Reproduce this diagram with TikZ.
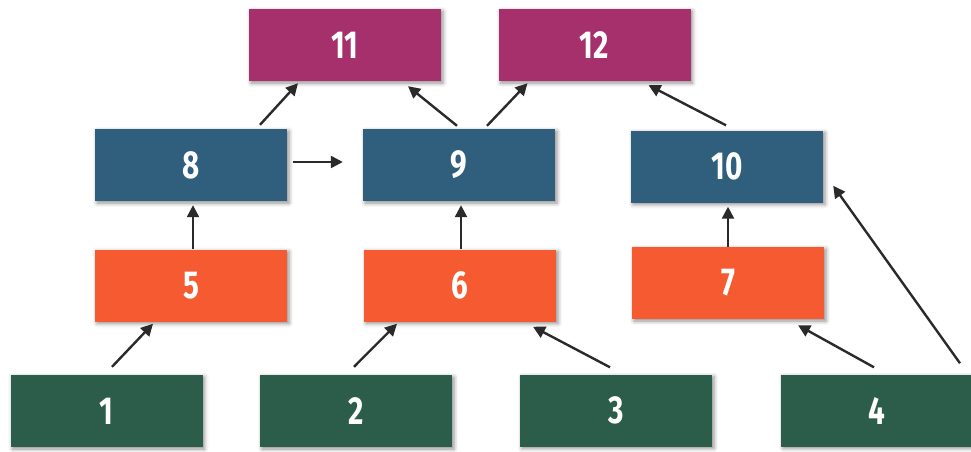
\documentclass[tikz,border=0pt]{standalone}
\usepackage{fontspec}
\setmainfont{Fira Sans}
\newfontfamily\boxfont{Fira Sans}[FakeStretch=0.76]
\usetikzlibrary{arrows.meta,shadows.blur}
\definecolor{toppurple}{HTML}{A5306B}
\definecolor{midblue}{HTML}{2F5F7D}
\definecolor{lowred}{HTML}{F65A30}
\definecolor{basegreen}{HTML}{2C5C4A}
\definecolor{linkgray}{HTML}{2A2A2A}
\tikzset{
  box/.style={minimum width=192pt, minimum height=72pt, inner sep=0pt,
    text=white, font=\boxfont\bfseries\fontsize{39}{40}\selectfont,
    blur shadow={shadow xshift=2pt, shadow yshift=-2pt, shadow blur radius=4pt, shadow opacity=45}},
  lvlfour/.style={box, fill=toppurple},
  lvlthree/.style={box, fill=midblue},
  lvltwo/.style={box, fill=lowred},
  lvlone/.style={box, fill=basegreen},
  link/.style={draw=linkgray, line width=2.4pt,
    -{Triangle[length=12pt,width=12pt]}}
}
\begin{document}
\begin{tikzpicture}[x=1pt,y=-1pt]
\useasboundingbox (0,0) rectangle (971,452);
% top row
\node[lvlfour] (b11) at (345,45) {11};
\node[lvlfour] (b12) at (594.5,45) {12};
% second row
\node[lvlthree] (b8) at (191,165) {8};
\node[lvlthree] (b9) at (459,165) {9};
\node[lvlthree] (b10) at (727,166.5) {10};
% third row
\node[lvltwo] (b5) at (191,285.5) {5};
\node[lvltwo] (b6) at (460,285.5) {6};
\node[lvltwo] (b7) at (728,283) {7};
% bottom row
\node[lvlone] (b1) at (106.5,411) {1};
\node[lvlone] (b2) at (356,411) {2};
\node[lvlone] (b3) at (616,410.5) {3};
\node[lvlone] (b4) at (877,410.5) {4};
% connectors
\draw[link] ([xshift=69pt,yshift=4pt]b8.north) -- ([xshift=-47pt,yshift=-2pt]b11.south);
\draw[link] ([xshift=-2pt,yshift=3pt]b9.north) -- ([xshift=63pt,yshift=-5pt]b11.south);
\draw[link] ([xshift=28pt,yshift=3pt]b9.north) -- ([xshift=-67pt,yshift=-2pt]b12.south);
\draw[link] ([xshift=-1pt,yshift=5pt]b10.north) -- ([xshift=54pt,yshift=-4pt]b12.south);
\draw[link] ([xshift=6pt,yshift=3pt]b8.east) -- ([xshift=-20pt,yshift=3pt]b9.west);
\draw[link] ([xshift=2pt]b5.north) -- ([xshift=2pt,yshift=-4pt]b8.south);
\draw[link] ([xshift=1pt]b6.north) -- ([xshift=2pt,yshift=-4pt]b9.south);
\draw[link] (b7.north) -- ([xshift=1pt,yshift=-4pt]b10.south);
\draw[link] ([xshift=5.5pt,yshift=8pt]b1.north) -- ([xshift=-38pt,yshift=-2pt]b5.south);
\draw[link] ([xshift=-2pt,yshift=8pt]b2.north) -- ([xshift=-63pt,yshift=-2pt]b6.south);
\draw[link] ([xshift=-6pt,yshift=7pt]b3.north) -- ([xshift=73pt,yshift=-5pt]b6.south);
\draw[link] ([xshift=-3pt,yshift=7pt]b4.north) -- ([xshift=70pt,yshift=-6pt]b7.south);
\draw[link] ([xshift=83pt,yshift=11pt]b4.north) -- ([xshift=10pt,yshift=17pt]b10.south east);
\end{tikzpicture}
\end{document}
